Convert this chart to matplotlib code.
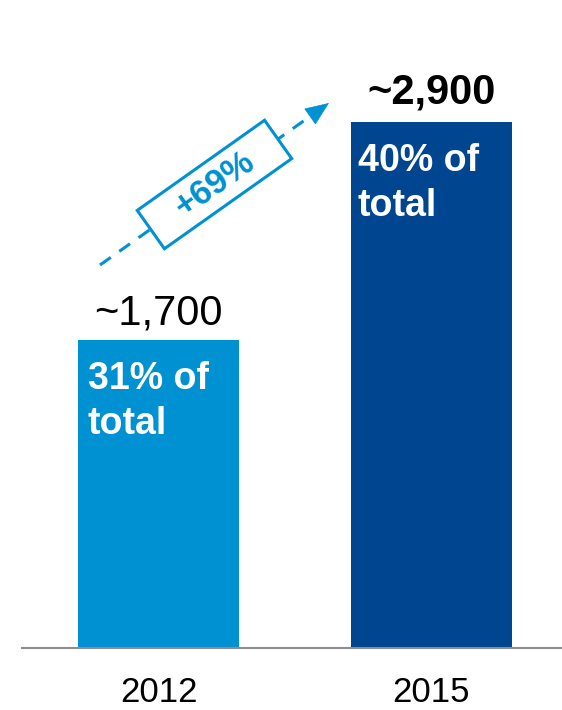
import matplotlib
matplotlib.use("Agg")
import matplotlib.pyplot as plt
import matplotlib.transforms as mtransforms
from matplotlib.patches import Rectangle, FancyArrowPatch

plt.rcParams['font.family'] = ['Liberation Sans', 'DejaVu Sans']
plt.rcParams['lines.scale_dashes'] = False

# ---- data ----
years = ["2012", "2015"]
values = [1700, 2900]
value_labels = ["~1,700", "~2,900"]
share_labels = ["31% of\ntotal", "40% of\ntotal"]
growth_label = "+69%"

# ---- style ----
bar_colors = ["#0091D2", "#00458F"]
arrow_color = "#0091D2"
value_weights = ["normal", "bold"]
value_sizes = [30, 30]
value_offsets = [11, 13]
share_pad = [7, 5]

W, H = 562, 710
fig = plt.figure(figsize=(W / 100, H / 100), dpi=100)
base = 61.7
ax = fig.add_axes([22 / W, base / H, 540 / W, (H - base) / H])

unit = 273.0
width = 161 / unit
x = list(range(len(years)))
ax.bar(x, values, width=width, color=bar_colors, zorder=2)
ax.set_xlim((22 - 158.5) / unit, (562 - 158.5) / unit)
ax.set_ylim(0, (H - base) / 0.1815)

for s in ["top", "left", "right"]:
    ax.spines[s].set_visible(False)
ax.spines["bottom"].set_color("#8C8C8C")
ax.spines["bottom"].set_linewidth(1.5)
ax.set_yticks([])
ax.set_xticks(x, labels=years)
ax.tick_params(axis="x", length=0, pad=20, labelsize=25, colors="black")

for i, v in enumerate(values):
    ax.annotate(value_labels[i], xy=(x[i], v), xytext=(0, value_offsets[i]),
                textcoords="offset points", ha="center", va="baseline",
                fontsize=value_sizes[i], fontweight=value_weights[i], color="black")
    ax.annotate(share_labels[i], xy=(x[i] - width / 2, v), xytext=(share_pad[i], -15),
                textcoords="offset points", ha="left", va="top",
                fontsize=27, fontweight="bold", color="white", linespacing=1.32)

# growth arrow in pixel coordinates (origin bottom-left)
px = mtransforms.Affine2D().scale(1 / 100) + fig.dpi_scale_trans
x0, y0 = 100, H - 265
tx, ty = 329, H - 103
ux, uy = 0.816, 0.578
hb = (tx - 22 * ux, ty - 22 * uy)
fig.add_artist(plt.Line2D([x0, hb[0]], [y0, hb[1]], transform=px, color=arrow_color,
                          lw=2.2, linestyle=(0, (9.5, 7.5)), solid_capstyle="butt"))
fig.add_artist(FancyArrowPatch(hb, (tx, ty), transform=px,
                               arrowstyle="-|>,head_length=0.8,head_width=0.33",
                               mutation_scale=20, color=arrow_color, lw=0.5,
                               shrinkA=0, shrinkB=0))
cx, cy = 214.5, H - 184.5
bw, bh = 156, 47
fig.add_artist(Rectangle((cx - bw / 2, cy - bh / 2), bw, bh, angle=35.3,
                         rotation_point="center", transform=px,
                         facecolor="white", edgecolor=arrow_color, lw=2.2, zorder=3))
fig.text(cx, cy, growth_label, transform=px, rotation=35.3, rotation_mode="anchor",
         ha="center", va="center", fontsize=25, fontweight="bold", color=arrow_color,
         zorder=4)

fig.savefig("out.png", dpi=100)
